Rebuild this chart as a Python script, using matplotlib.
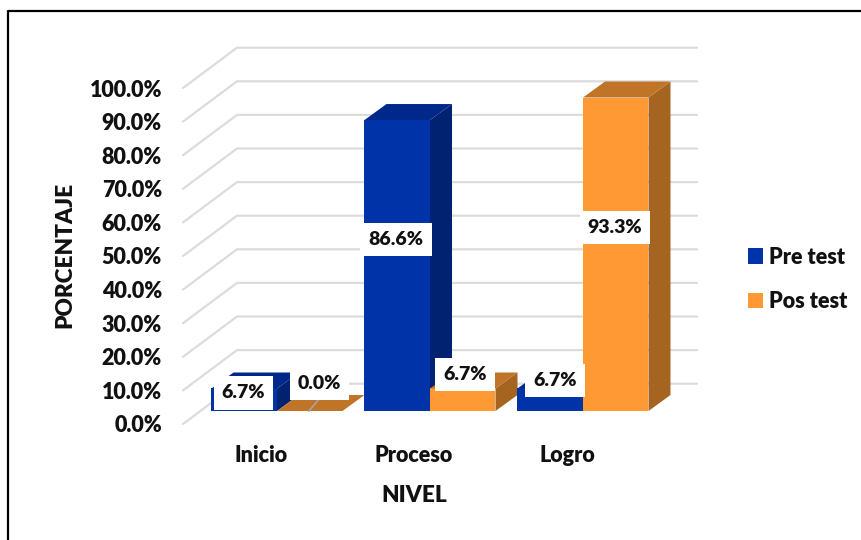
import matplotlib
matplotlib.use("Agg")
import matplotlib.pyplot as plt
from matplotlib.lines import Line2D
from matplotlib.patches import Patch, Polygon

plt.rcParams['font.family'] = ['Lato', 'DejaVu Sans']
plt.rcParams['font.weight'] = 'heavy'

# Data
categorias = ["Inicio", "Proceso", "Logro"]
pre_test = [6.7, 86.6, 6.7]
pos_test = [0.0, 6.7, 93.3]
pre_labels = ["6.7%", "86.6%", "6.7%"]
pos_labels = ["0.0%", "6.7%", "93.3%"]
y_ticks = [0, 10, 20, 30, 40, 50, 60, 70, 80, 90, 100]

W, H = 862, 540
TXT = "#111111"

# scale: 1 category = 153 px, 1 % = 3.36 px
sx = 153.0
sy = 3.36

fig = plt.figure(figsize=(W / 100, H / 100), dpi=100)
ax = fig.add_axes([0, 0, 1, 1])
ax.set_xlim(-277 / sx, (W - 277) / sx)
ax.set_ylim((411 - H) / sy, 411 / sy)
ax.axis("off")

bar_w = 65.5 / sx
dx = 22 / sx
dy = 16 / sy

# wall grid: front end, back end, right end
front_x = (183 - 277) / sx
back_x = (237 - 277) / sx
right_x = (697 - 277) / sx
front_y = -13 / sy
back_y = 27.3 / sy
for t in y_ticks:
    ax.plot([front_x, back_x, right_x], [t + front_y, t + back_y, t + back_y],
            color="#dcdcdc", lw=1.6, zorder=1, solid_capstyle="round")
    ax.text(front_x - 21 / sx, t + front_y - 2 / sy, f"{t:.1f}%", ha="right", va="center",
            fontsize=15.5, color=TXT, zorder=5)


def bar3d(x0, v, front, top, side, z):
    x1 = x0 + bar_w
    if v > 0:
        ax.add_patch(Polygon([(x0, 0), (x1, 0), (x1, v), (x0, v)], fc=front, ec="none", zorder=z))
        ax.add_patch(Polygon([(x1, 0), (x1 + dx, dy), (x1 + dx, v + dy), (x1, v)], fc=side, ec="none", zorder=z))
    ax.add_patch(Polygon([(x0, v), (x1, v), (x1 + dx, v + dy), (x0 + dx, v + dy)], fc=top, ec="none", zorder=z))


for i in range(3):
    bar3d(i - bar_w, pre_test[i], "#0033a8", "#00288a", "#002270", 2 + i * 0.1)
    bar3d(i, pos_test[i], "#ff9933", "#c07428", "#a56420", 2.05 + i * 0.1)
    ax.text(i - 16 / sx, -44 / sy, categorias[i], ha="center", va="center", fontsize=15.5, color=TXT)

# small grey mark on the empty bar
ax.plot([32 / sx, 42 / sx], [0, 12 / sy], color="#a6a6a6", lw=1.2, zorder=3)

# data labels (offsets from the bar joint, px)
pre_off = [(-33.5, 18), (-34, 171.5), (-28, 30.5)]
pos_off = [(42.5, 27.5), (35, 36.5), (32, 183.5)]
box = dict(boxstyle="square,pad=0.42", fc="white", ec="none")
for i in range(3):
    ax.text(i + pre_off[i][0] / sx, pre_off[i][1] / sy, pre_labels[i], ha="center", va="center",
            fontsize=14, color=TXT, zorder=6, bbox=box)
    ax.text(i + pos_off[i][0] / sx, pos_off[i][1] / sy, pos_labels[i], ha="center", va="center",
            fontsize=14, color=TXT, zorder=6, bbox=box)

ax.text((414 - 277) / sx, -85 / sy, "NIVEL", ha="center", va="center", fontsize=16.3, color=TXT)
ax.text((65 - 277) / sx, (411 - 255) / sy, "PORCENTAJE", rotation=90, ha="center", va="center",
        fontsize=16.3, color=TXT)

handles = [Patch(fc="#0033a8", label="Pre test"), Patch(fc="#ff9933", label="Pos test")]
ax.legend(handles=handles, loc="center left", bbox_to_anchor=(748 / W, 1 - 279.5 / H), frameon=False,
          fontsize=15.5, handlelength=0.7, handleheight=0.7, handletextpad=0.28, labelspacing=1.11,
          borderpad=0, borderaxespad=0, labelcolor=TXT)

# outer frame
fig.add_artist(Line2D([8 / W, 8 / W, 1], [0, 1 - 11 / H, 1 - 11 / H], color="black", lw=1.6))

fig.savefig("out.png", dpi=100)
